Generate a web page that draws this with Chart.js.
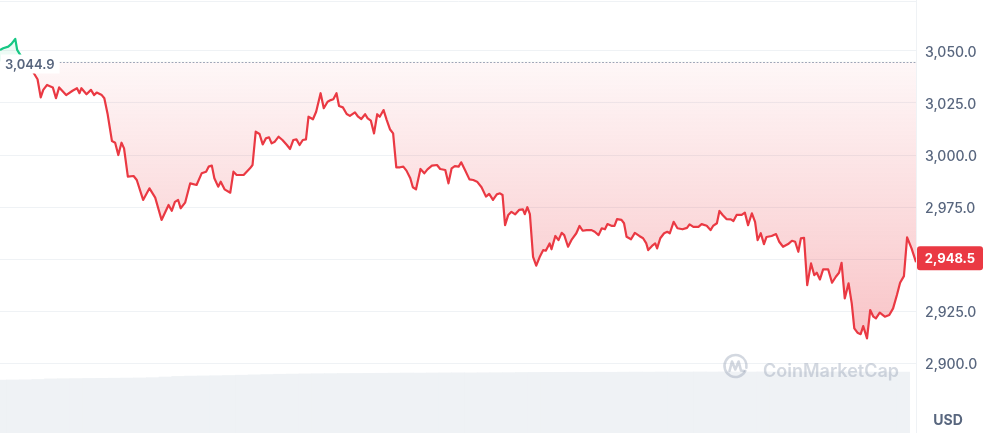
<!DOCTYPE html>
<html>
<head>
<meta charset="utf-8">
<script src="https://cdn.jsdelivr.net/npm/chart.js@4.4.1/dist/chart.umd.min.js"></script>
<style>
  html, body { margin: 0; padding: 0; background: #ffffff; }
  #wrap { width: 986px; height: 433px; position: relative; }
</style>
</head>
<body>
<div id="wrap"><canvas id="c"></canvas></div>
<script>
// ---- data (minutes since start of the 24h window, ETH price in USD) ----
const times = [0,5,13,18,24,27,35,44,52,59,64,68,74,83,88,93,104,114,121,125,128,136,143,148,152,160,164,169,176,181,186,191,195,201,210,215,225,235,244,254,265,270,275,280,284,291,299,309,317,324,328,333,337,343,347,353,362,367,372,383,393,397,402,408,413,418,423,427,432,438,444,451,456,461,466,471,476,481,485,492,497,504,509,515,520,524,529,533,539,545,550,558,563,568,574,578,583,588,593,597,603,608,613,618,623,629,634,639,645,649,654,661,667,672,679,687,692,700,705,710,715,721,725,731,738,744,750,757,764,769,775,781,786,790,794,799,804,810,816,822,825,829,833,838,843,849,854,858,864,867,873,878,883,887,893,899,906,911,916,922,930,935,941,946,951,955,962,966,970,977,981,985,992,998,1005,1011,1016,1019,1025,1030,1033,1038,1044,1049,1053,1059,1065,1073,1080,1084,1090,1098,1103,1111,1117,1121,1127,1131,1136,1142,1149,1153,1158,1166,1171,1176,1182,1187,1191,1196,1201,1205,1213,1220,1225,1231,1239,1245,1250,1255,1259,1264,1269,1275,1280,1284,1289,1294,1302,1308,1314,1319,1323,1328,1334,1339,1343,1348,1353,1357,1363,1368,1373,1377,1383,1391,1398,1404,1410,1415,1421,1426,1433,1440];
const prices = [3050.5,3051.3,3052.1,3053.4,3055.8,3050.5,3046.6,3042.8,3039.9,3036.4,
3027.7,3031.3,3033.7,3032.5,3027.3,3032.5,3028.8,3030.9,3032.1,3029.7,
3032.1,3029.2,3031.3,3028.8,3030.0,3028.8,3027.3,3020.0,3006.7,3005.9,
3000.0,3005.9,3003.2,2989.6,2989.9,2988.0,2978.4,2984.0,2979.5,2968.8,
2976.0,2973.2,2977.5,2978.4,2974.4,2977.1,2986.4,2985.6,2991.2,2992.0,
2994.4,2994.9,2988.8,2984.8,2987.2,2983.5,2981.9,2992.0,2990.4,2990.4,
2993.6,2995.2,3011.2,3010.1,3005.1,3008.0,3008.5,3005.6,3006.4,3008.8,
3007.2,3004.8,3002.9,3007.2,3007.5,3004.8,3007.2,3007.5,3018.4,3017.2,
3020.8,3029.7,3022.5,3025.6,3026.4,3026.8,3029.7,3023.6,3022.9,3019.7,
3018.8,3020.5,3018.4,3017.3,3019.6,3017.6,3016.5,3010.4,3019.6,3018.4,
3021.6,3016.8,3012.4,3010.4,2994.1,2994.1,2994.4,2992.5,2988.8,2984.5,
2983.5,2993.3,2991.2,2993.1,2994.9,2995.2,2993.3,2992.8,2986.4,2993.6,
2994.7,2994.4,2996.5,2992.8,2988.3,2988.0,2987.2,2984.5,2980.0,2981.3,
2978.4,2981.1,2981.6,2980.8,2966.3,2971.2,2972.7,2971.5,2973.6,2973.9,
2971.6,2974.9,2971.6,2951.1,2946.8,2951.4,2954.3,2954.0,2957.5,2954.7,
2961.1,2959.1,2962.6,2961.5,2955.9,2959.5,2962.4,2965.9,2963.6,2963.9,
2963.9,2963.1,2961.5,2964.8,2964.3,2966.8,2965.9,2965.9,2969.2,2968.8,
2967.2,2960.7,2959.5,2962.6,2961.1,2960.0,2957.5,2954.3,2956.3,2957.5,
2955.1,2960.0,2962.4,2963.1,2962.4,2967.9,2964.8,2964.3,2965.0,2966.7,
2965.5,2965.5,2966.8,2966.0,2963.9,2965.9,2967.2,2973.1,2971.2,2969.2,
2969.1,2968.3,2971.2,2971.2,2972.3,2966.3,2972.0,2967.9,2959.1,2962.4,
2957.2,2960.6,2961.1,2962.0,2958.3,2955.9,2957.2,2958.8,2958.3,2953.5,
2959.9,2960.2,2937.5,2947.9,2942.3,2943.4,2940.2,2945.0,2945.0,2938.6,
2941.5,2943.4,2948.2,2931.1,2938.3,2928.7,2916.7,2914.6,2913.9,2917.8,
2911.9,2925.5,2922.3,2921.5,2924.2,2922.3,2923.1,2926.3,2932.7,2938.6,
2941.8,2960.4,2955.1,2948.5];
const volTimes = [0,20,40,60,80,100,120,140,160,180,200,220,240,260,280,300,320,340,360,380,400,420,440,460,480,500,520,540,560,580,600,620,640,660,680,700,720,740,760,780,800,820,840,860,880,900,920,940,960,980,1000,1020,1040,1060,1080,1100,1120,1140,1160,1180,1200,1220,1240,1260,1280,1300,1320,1340,1360,1380,1400,1420];
const volumes = [85.5,85.8,86,86.5,87.5,87.8,88,88.2,88.4,88.6,88.8,89,89.5,90.5,91.5,92,92.3,92.6,93,93.5,94,94.5,95,95.3,95.6,95.8,96,96.2,96.3,96.5,96.6,96.8,97,96.9,97.1,97.2,97.3,97.2,97.4,97.5,97.6,97.8,97.9,98,98.1,98.2,98.1,98.3,98.2,98.4,98.5,98.4,98.6,98.5,98.6,98.7,98.6,98.8,98.7,98.6,98.8,98.7,98.6,98.8,98.7,98.6,98.8,98.7,98.6,98.5,98.6,98.5];
const baseline = 3044.9;
const lastPrice = 2948.5;
const yTicks = [2900, 2925, 2950, 2975, 3000, 3025, 3050];
const currency = 'USD';

const RED = '#ea3943', GREEN = '#16c784', GRID = '#eff2f5', TXT = '#58667e';
const FONT = 'Inter, "Noto Sans", sans-serif';
const fmt = v => v.toLocaleString('en-US', {minimumFractionDigits: 1, maximumFractionDigits: 1});

const linePts = times.map((t, i) => ({x: t, y: prices[i]}));
const volPts = volTimes.map((t, i) => ({x: t, y: volumes[i]}));

const overlay = {
  id: 'overlay',
  beforeDatasetsDraw(chart) {
    const {ctx, chartArea: a} = chart;
    ctx.save();
    ctx.strokeStyle = GRID; ctx.lineWidth = 1;
    ctx.beginPath();
    ctx.moveTo(a.left, 1.5); ctx.lineTo(a.right + 0.5, 1.5);
    ctx.moveTo(a.right + 0.5, 0); ctx.lineTo(a.right + 0.5, a.bottom);
    ctx.stroke();
    ctx.restore();
  },
  afterDatasetsDraw(chart) {
    const {ctx, chartArea: a, scales} = chart;
    const ys = scales.y;
    const yb = Math.round(ys.getPixelForValue(baseline)) + 0.5;
    ctx.save();
    // watermark
    ctx.fillStyle = 'rgba(150,162,180,0.42)';
    ctx.strokeStyle = 'rgba(150,162,180,0.42)';
    ctx.lineWidth = 2.6; ctx.lineCap = 'round'; ctx.lineJoin = 'round';
    ctx.beginPath(); ctx.arc(735.5, 366, 11, 0.15 * Math.PI, 2.05 * Math.PI); ctx.stroke();
    ctx.beginPath();
    ctx.moveTo(729.5, 371); ctx.lineTo(732, 361.5); ctx.lineTo(735.3, 369.5);
    ctx.lineTo(738.6, 361.5); ctx.lineTo(741, 370.5); ctx.lineTo(744, 371);
    ctx.stroke();
    ctx.font = '600 18px ' + FONT;
    ctx.textBaseline = 'alphabetic'; ctx.textAlign = 'left';
    ctx.fillText('CoinMarketCap', 763, 377);

    // dotted baseline
    ctx.strokeStyle = '#9aa3b5'; ctx.lineWidth = 1; ctx.setLineDash([1, 2.5]);
    ctx.beginPath(); ctx.moveTo(60, yb); ctx.lineTo(a.right, yb); ctx.stroke();
    ctx.setLineDash([]);
    // baseline label
    ctx.font = '600 13px ' + FONT;
    const bt = fmt(baseline);
    const bw = ctx.measureText(bt).width;
    ctx.fillStyle = '#ffffff';
    ctx.fillRect(1, yb - 8, bw + 9, 19);
    ctx.fillStyle = TXT; ctx.textBaseline = 'middle';
    ctx.fillText(bt, 5, yb + 2.5);

    // y tick labels (drawn by hand so they sit on the grid lines optically)
    ctx.font = '500 14px ' + FONT;
    ctx.textAlign = 'left'; ctx.textBaseline = 'middle';
    ctx.fillStyle = TXT;
    yTicks.forEach(v => {
      ctx.fillText(fmt(v), a.right + 9, ys.getPixelForValue(v) + 1.5);
    });

    // current price tag
    const yp = ys.getPixelForValue(lastPrice) - 4;
    const bx = a.right + 1, bwid = 66, bh = 24;
    ctx.fillStyle = RED;
    ctx.beginPath();
    if (ctx.roundRect) ctx.roundRect(bx, yp - bh / 2, bwid, bh, 3); else ctx.rect(bx, yp - bh / 2, bwid, bh);
    ctx.fill();
    ctx.fillStyle = '#ffffff';
    ctx.font = '700 13px ' + FONT;
    ctx.textAlign = 'center'; ctx.textBaseline = 'middle';
    ctx.fillText(fmt(lastPrice), bx + bwid / 2, yp + 1);

    // currency
    ctx.fillStyle = TXT;
    ctx.font = '700 14px ' + FONT;
    ctx.fillText(currency, 948, 421);
    ctx.restore();
  }
};

const chart = new Chart(document.getElementById('c'), {
  data: {
    datasets: [
      {
        type: 'line',
        data: linePts,
        order: 0,
        yAxisID: 'y',
        borderColor: RED,
        borderWidth: 2.2,
        pointRadius: 0,
        tension: 0,
        borderJoinStyle: 'round',
        segment: {
          borderColor: c => (c.p0.parsed.y >= baseline && c.p1.parsed.y >= baseline) ? GREEN : RED
        },
        fill: {value: baseline, above: 'rgba(22,199,132,0.08)'},
        backgroundColor: (context) => {
          const {chart} = context;
          const {ctx, chartArea, scales} = chart;
          if (!chartArea || !scales.y) return 'rgba(234,57,67,0.1)';
          const y0 = scales.y.getPixelForValue(baseline);
          const y1 = scales.y.getPixelForValue(2910);
          const g = ctx.createLinearGradient(0, y0, 0, y1);
          g.addColorStop(0, 'rgba(234,57,67,0.04)');
          g.addColorStop(1, 'rgba(234,57,67,0.30)');
          return g;
        }
      },
      {
        type: 'bar',
        data: volPts,
        order: 1,
        yAxisID: 'yv',
        backgroundColor: '#eff2f5',
        borderWidth: 0,
        barPercentage: 1,
        categoryPercentage: 1,
        grouped: false
      }
    ]
  },
  options: {
    responsive: true,
    maintainAspectRatio: false,
    animation: false,
    layout: {padding: 0},
    plugins: {legend: {display: false}, tooltip: {enabled: false}},
    scales: {
      x: {type: 'linear', min: 0, max: 1440, display: false, offset: false},
      y: {
        position: 'right',
        min: 2866.4,
        max: 3074.5,
        afterBuildTicks: s => { s.ticks = yTicks.map(v => ({value: v})); },
        afterFit: s => { s.width = 70; s.paddingTop = 0; s.paddingBottom = 0; },
        border: {display: false},
        grid: {color: GRID, drawTicks: false, lineWidth: 1},
        ticks: {display: false}
      },
      yv: {display: false, min: 0, max: 700}
    }
  },
  plugins: [overlay]
});
</script>
</body>
</html>
